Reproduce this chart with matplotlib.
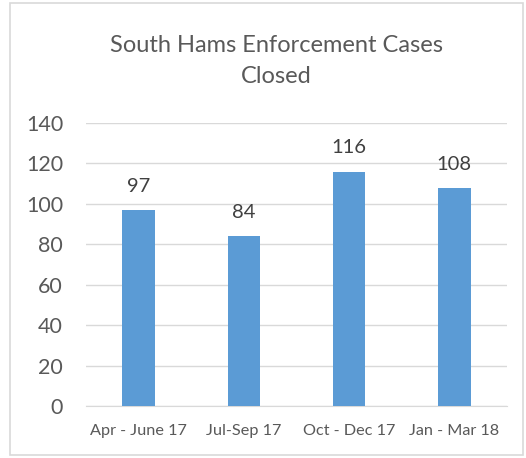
import matplotlib
matplotlib.use("Agg")
import matplotlib.pyplot as plt
from matplotlib.patches import Rectangle

categories = ["Apr - June 17", "Jul-Sep 17", "Oct - Dec 17", "Jan - Mar 18"]
values = [97, 84, 116, 108]
yticks = [0, 20, 40, 60, 80, 100, 120, 140]

plt.rcParams['font.family'] = ['Lato', 'DejaVu Sans']
W, H = 526, 458
fig = plt.figure(figsize=(W/100, H/100), dpi=100)
fig.patch.set_facecolor("white")
fig.add_artist(Rectangle((10/W, 3/H), 513/W, 452/H, transform=fig.transFigure,
                         fill=False, edgecolor="#d9d9d9", linewidth=1.2))

ax = fig.add_axes([86/W, 1 - 406/H, 421/W, 283/H])
x = range(len(categories))
bars = ax.bar(x, values, width=0.31, color="#5B9BD5", zorder=3)
ax.set_xlim(-0.5, len(categories) - 0.5)
ax.set_ylim(0, 140)
ax.set_yticks(yticks)
ax.set_xticks(list(x))
ax.set_xticklabels(categories, fontsize=11.7, color="#595959")
ax.tick_params(axis='y', labelsize=15.5, colors="#595959", length=0, pad=16.5)
ax.tick_params(axis='x', length=0, pad=13)
ax.grid(axis='y', color="#d9d9d9", linewidth=1, zorder=0)
for s in ["top", "right", "left"]:
    ax.spines[s].set_visible(False)
ax.spines["bottom"].set_color("#d9d9d9")
for xi, v in zip(x, values):
    ax.text(xi, v + 7.5, str(v), ha="center", va="bottom", fontsize=14.5, color="#404040")

fig.text(276/W, 1 - 61/H, "South Hams Enforcement Cases\nClosed", ha="center", va="center",
         fontsize=17, color="#595959", linespacing=1.55)

fig.savefig("out.png", dpi=100)
